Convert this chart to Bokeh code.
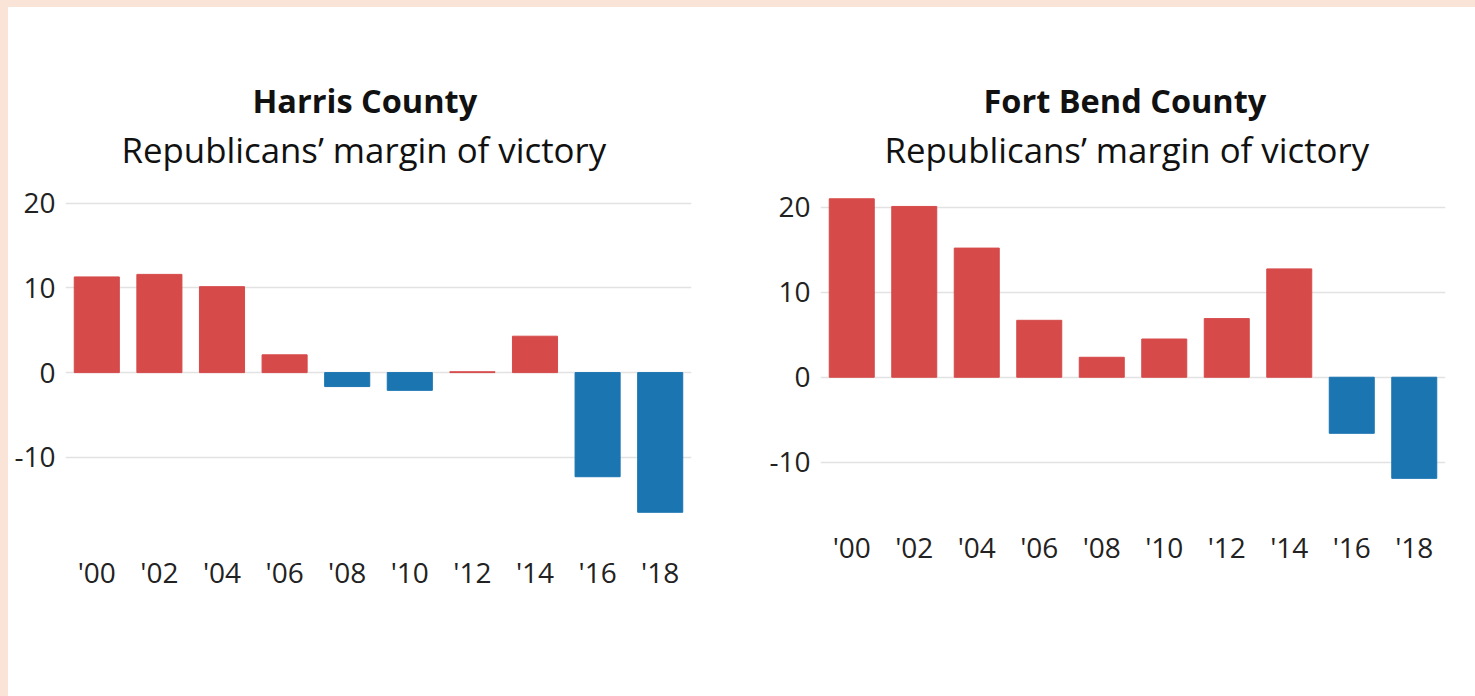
from bokeh.plotting import figure
from bokeh.models import FactorRange, Range1d, FixedTicker, Title, ColumnDataSource, PrintfTickFormatter, Spacer
from bokeh.layouts import row, column
from bokeh.embed import file_html
from bokeh.resources import INLINE

years = ["'00", "'02", "'04", "'06", "'08", "'10", "'12", "'14", "'16", "'18"]
harris = [11.3, 11.6, 10.15, 2.1, -1.65, -2.1, 0.1, 4.3, -12.3, -16.5]
fortbend = [21.0, 20.1, 15.2, 6.7, 2.35, 4.5, 6.9, 12.75, -6.6, -11.9]
y_ticks = [-10, 0, 10, 20]

RED = "#d64a4a"
BLUE = "#1b75b1"
PEACH = "#fae4d7"
FONT = "Open Sans"


def make(title, vals, yr, fw, fh, bl, br, off_main, off_sub):
    colors = [RED if v >= 0 else BLUE for v in vals]
    src = ColumnDataSource(dict(x=years, top=vals, color=colors))
    p = figure(x_range=FactorRange(*years), y_range=Range1d(*yr),
               frame_width=fw, frame_height=fh, output_backend="svg",
               toolbar_location=None, min_border_left=bl, min_border_right=br,
               min_border_top=189, min_border_bottom=60)
    p.vbar(x="x", top="top", bottom=0, width=0.72, color="color", source=src)
    p.outline_line_color = None
    p.xgrid.grid_line_color = None
    p.ygrid.grid_line_color = "#e2e2e2"
    p.ygrid.grid_line_width = 1.3
    p.yaxis.ticker = FixedTicker(ticks=y_ticks)
    p.yaxis.formatter = PrintfTickFormatter(format="%d")
    for ax in (p.xaxis, p.yaxis):
        ax.axis_line_color = None
        ax.major_tick_line_color = None
        ax.minor_tick_line_color = None
        ax.major_label_text_font = FONT
        ax.major_label_text_color = "#222222"
        ax.major_label_text_font_size = "28px"
    p.yaxis.major_label_standoff = 4
    p.xaxis.major_label_standoff = 10
    sub = Title(text="Republicans\u2019 margin of victory", align="left",
                text_font=FONT, text_font_size="34.8px", text_font_style="normal",
                text_color="#111111", standoff=47, offset=off_sub)
    main = Title(text=title, align="left", text_font=FONT,
                 text_font_size="32.5px", text_font_style="bold",
                 text_color="#111111", standoff=-45, offset=off_main)
    p.add_layout(sub, "above")
    p.add_layout(main, "above")
    return p


p1 = make("Harris County", harris, (-19.36, 20.8), 626, 340, 57, 57, 187, 56)
p2 = make("Fort Bend County", fortbend, (-15.8, 21.27), 625, 315, 72, 15, 163, 64)

top_strip = Spacer(width=1475, height=7, styles={"background-color": PEACH})
left_strip = Spacer(width=8, height=689, styles={"background-color": PEACH})

p = column(top_strip, row(left_strip, p1, p2))
open("out.html", "w").write(file_html(p, INLINE))
